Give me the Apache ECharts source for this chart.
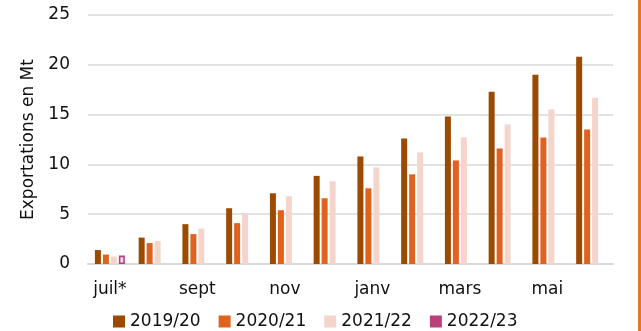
<!DOCTYPE html>
<html lang="fr">
<head>
    <meta charset="UTF-8">
    <title>Exportations cumulées</title>
    <script src="https://cdn.jsdelivr.net/npm/echarts@6/dist/echarts.min.js"></script>
    <style>
        html, body { margin: 0; padding: 0; background: #fff; }
        #chart { width: 641px; height: 331px; }
    </style>
</head>
<body>
    <div id="chart"></div>
    <script>
        // données (Mt, cumul)
        const mois = ['juil*', 'août', 'sept', 'oct', 'nov', 'déc', 'janv', 'févr', 'mars', 'avr', 'mai', 'juin'];
        const camp1920 = [1.4, 2.65, 4.0, 5.6, 7.1, 8.85, 10.8, 12.6, 14.8, 17.3, 19.0, 20.8];
        const camp2021 = [0.95, 2.1, 3.0, 4.1, 5.4, 6.6, 7.6, 9.0, 10.4, 11.6, 12.7, 13.5];
        const camp2122 = [0.75, 2.3, 3.55, 5.1, 6.8, 8.3, 9.7, 11.2, 12.7, 14.0, 15.5, 16.7];
        const camp2223 = [0.85, null, null, null, null, null, null, null, null, null, null, null];
        const yTicks = [0, 5, 10, 15, 20, 25];

        const font = 'DejaVu Sans';
        const chart = echarts.init(document.getElementById('chart'));

        function serie(name, data, color) {
            return {
                name: name,
                type: 'bar',
                data: data,
                barWidth: 6,
                barGap: '33%',
                itemStyle: { color: color }
            };
        }

        const s4 = serie('2022/23', camp2223.map((v, i) => i === 0 ? {
            value: v,
            itemStyle: { color: '#f6e1ea', borderColor: '#b8407c', borderWidth: 1.6 }
        } : v), '#b8407c');

        chart.setOption({
            animation: false,
            textStyle: { fontFamily: font },
            grid: { left: 88, right: 28, top: 15, bottom: 67 },
            legend: {
                left: 108,
                top: 308,
                icon: 'rect',
                itemWidth: 12,
                itemHeight: 12,
                itemGap: 18,
                textStyle: { fontFamily: font, fontSize: 17, color: '#111' },
                data: ['2019/20', '2020/21', '2021/22', '2022/23']
            },
            xAxis: {
                type: 'category',
                data: mois,
                axisTick: { show: false },
                axisLine: { lineStyle: { color: '#d9d9d9', width: 2 } },
                axisLabel: { interval: 1, margin: 17, fontSize: 17, color: '#111', fontFamily: font }
            },
            yAxis: {
                type: 'value',
                min: yTicks[0],
                max: yTicks[yTicks.length - 1],
                interval: 5,
                name: 'Exportations en Mt',
                nameLocation: 'middle',
                nameGap: 47,
                nameTextStyle: { fontSize: 17, color: '#111', fontFamily: font },
                axisLine: { show: false },
                axisTick: { show: false },
                axisLabel: { fontSize: 17, color: '#111', margin: 18, fontFamily: font },
                splitLine: { lineStyle: { color: '#d9d9d9', width: 1.6 } }
            },
            series: [
                serie('2019/20', camp1920, '#9c4a00'),
                serie('2020/21', camp2021, '#e0621f'),
                serie('2021/22', camp2122, '#f5d4cb'),
                s4
            ],
            graphic: [{
                type: 'rect',
                shape: { x: 638, y: 0, width: 3, height: 331 },
                style: { fill: '#e8761e' }
            }]
        });
    </script>
</body>
</html>
